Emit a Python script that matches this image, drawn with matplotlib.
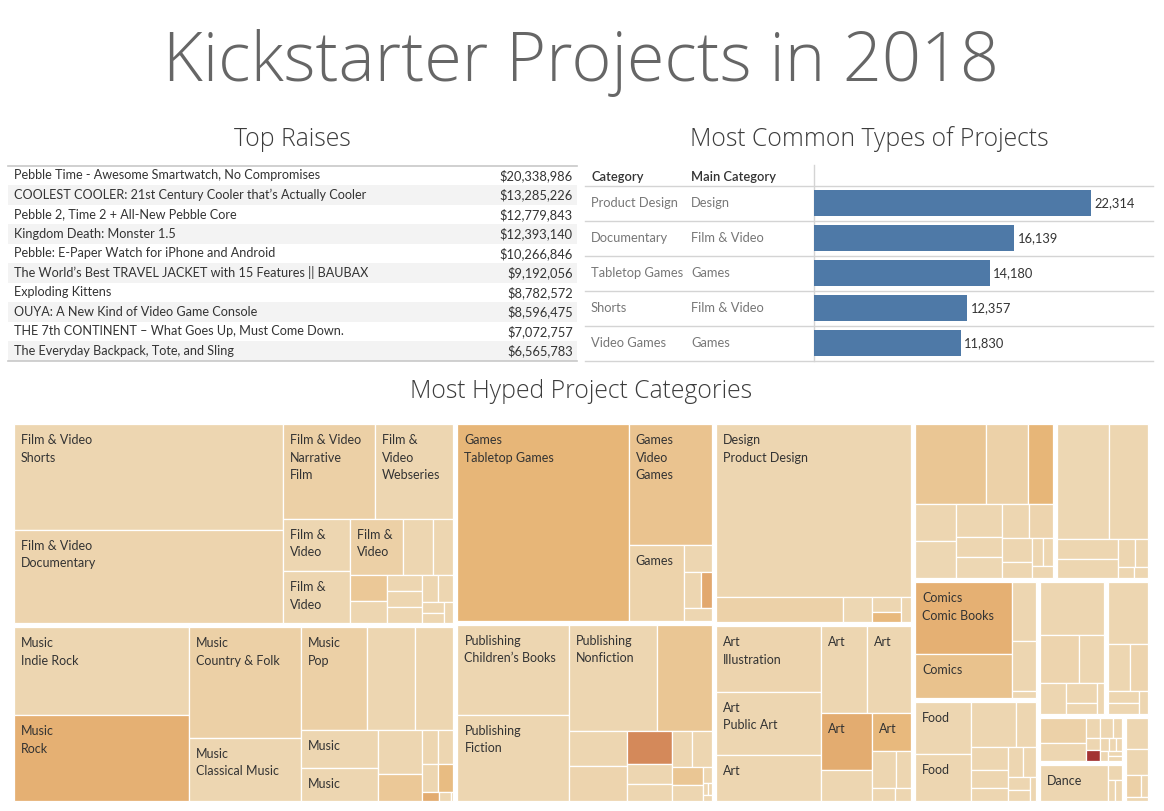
import matplotlib
matplotlib.use("Agg")
import matplotlib.pyplot as plt
from matplotlib.colors import LinearSegmentedColormap, Normalize
from matplotlib.patches import Rectangle

W, H = 1164, 811

# ---------------- data ----------------
# Top Raises
project_names = [
    "Pebble Time - Awesome Smartwatch, No Compromises",
    "COOLEST COOLER: 21st Century Cooler that\u2019s Actually Cooler",
    "Pebble 2, Time 2 + All-New Pebble Core",
    "Kingdom Death: Monster 1.5",
    "Pebble: E-Paper Watch for iPhone and Android",
    "The World\u2019s Best TRAVEL JACKET with 15 Features || BAUBAX",
    "Exploding Kittens",
    "OUYA: A New Kind of Video Game Console",
    "THE 7th CONTINENT \u2013 What Goes Up, Must Come Down.",
    "The Everyday Backpack, Tote, and Sling",
]
project_raised = [20338986, 13285226, 12779843, 12393140, 10266846,
                  9192056, 8782572, 8596475, 7072757, 6565783]

# Most Common Types of Projects
type_categories = ["Product Design", "Documentary", "Tabletop Games", "Shorts", "Video Games"]
type_main = ["Design", "Film & Video", "Games", "Film & Video", "Games"]
type_counts = [22314, 16139, 14180, 12357, 11830]

# Most Hyped Project Categories (size = projects, colour = hype)
main_categories = ["Film & Video", "Music", "Games", "Publishing", "Design", "Art",
                   "Technology", "Fashion", "Comics", "Food", "Theater",
                   "Photography", "Crafts", "Dance", "Journalism"]

sub_values = {
    "Film & Video": [27500, 24200, 8460, 7160, 3390, 3330, 2860, 1650, 1100, 972, 792,
                     544, 544, 544, 405, 405, 231, 210, 198],
    "Music": [15000, 14500, 12000, 6870, 6565, 4750, 3840, 2850, 2475, 1890, 1160,
              544, 510, 432, 405, 144, 108, 18],
    "Games": [32700, 9900, 4050, 725, 612, 396, 348],
    "Publishing": [9810, 9374, 9100, 5720, 2016, 1960, 1485, 855, 765, 720, 720,
                   540, 480, 135, 54, 54, 54],
    "Design": [32940, 3100, 725, 406, 290, 250],
    "Art": [6750, 6450, 4780, 3850, 3750, 2800, 1510, 1480, 875, 548, 295, 192],
    "Technology": [5600, 3400, 1950, 1500, 1500, 1500, 950, 950, 920, 800, 720,
                   462, 288, 286, 256],
    "Fashion": [6000, 4500, 1218, 1160, 510, 360, 176, 154],
    "Comics": [7000, 4300, 1392, 1176, 168],
    "Food": [2950, 2650, 2050, 912, 874, 665, 490, 455, 414, 276, 253, 138],
    "Theater": [3500, 1900, 1240, 840, 648, 350, 225],
    "Photography": [2650, 1081, 893, 429, 363, 225],
    "Crafts": [1250, 850, 285, 285, 190, 180, 165, 120, 105, 90, 72, 70, 70],
    "Dance": [2700, 238, 168, 168],
    "Journalism": [780, 650, 400, 175, 96],
}

sub_hype = {
    "Film & Video": [0.03, 0.04, 0.07, 0.03, 0.03, 0.03, 0.07, 0.03, 0.03, 0.12, 0.03,
                     0.03, 0.03, 0.03, 0.03, 0.03, 0.03, 0.03, 0.03],
    "Music": [0.03, 0.27, 0.07, 0.03, 0.07, 0.03, 0.03, 0.03, 0.03, 0.03, 0.12,
              0.03, 0.03, 0.03, 0.2, 0.3, 0.03, 0.03],
    "Games": [0.24, 0.15, 0.05, 0.03, 0.03, 0.32, 0.03],
    "Publishing": [0.03, 0.03, 0.03, 0.13, 0.03, 0.04, 0.5, 0.03, 0.03, 0.03, 0.03,
                   0.13, 0.03, 0.03, 0.03, 0.03, 0.03],
    "Design": [0.03, 0.06, 0.02, 0.03, 0.22, 0.03],
    "Art": [0.04, 0.03, 0.03, 0.03, 0.03, 0.3, 0.03, 0.22, 0.03, 0.03, 0.03, 0.03],
    "Technology": [0.13, 0.06, 0.24, 0.03, 0.02, 0.03, 0.03, 0.02, 0.03, 0.04, 0.03,
                   0.03, 0.03, 0.03, 0.03],
    "Fashion": [0.02, 0.03, 0.03, 0.03, 0.03, 0.03, 0.03, 0.03],
    "Comics": [0.27, 0.16, 0.03, 0.03, 0.03],
    "Food": [0.03, 0.03, 0.03, 0.03, 0.03, 0.03, 0.03, 0.03, 0.03, 0.03, 0.03, 0.03],
    "Theater": [0.03, 0.04, 0.03, 0.03, 0.03, 0.03, 0.03],
    "Photography": [0.03, 0.03, 0.04, 0.03, 0.03, 0.03],
    "Crafts": [0.06, 0.03, 0.03, 0.03, 0.03, 0.03, 1.0, 0.03, 0.03, 0.03, 0.03, 0.03, 0.03],
    "Dance": [0.03, 0.03, 0.03, 0.03],
    "Journalism": [0.03, 0.03, 0.07, 0.03, 0.03],
}

sub_labels = {
    "Film & Video": ["Film & Video\nShorts", "Film & Video\nDocumentary",
                     "Film & Video\nNarrative\nFilm", "Film &\nVideo\nWebseries",
                     "Film &\nVideo", "Film &\nVideo", "Film &\nVideo"],
    "Music": ["Music\nIndie Rock", "Music\nRock", "Music\nCountry & Folk",
              "Music\nClassical Music", "Music\nPop", "", "", "Music", "Music"],
    "Games": ["Games\nTabletop Games", "Games\nVideo\nGames", "Games"],
    "Publishing": ["Publishing\nChildren\u2019s Books", "Publishing\nFiction",
                   "Publishing\nNonfiction"],
    "Design": ["Design\nProduct Design"],
    "Art": ["Art\nIllustration", "Art\nPublic Art", "Art", "Art", "Art", "Art", "", "Art"],
    "Comics": ["Comics\nComic Books", "Comics"],
    "Food": ["Food", "Food"],
    "Dance": ["Dance"],
}

# ---------------- helpers ----------------
PHI = (1 + 5 ** 0.5) / 2


def squarify(values, x0, y0, x1, y1):
    # squarified treemap (golden ratio target), rows start top-left
    rects = []
    value = float(sum(values))
    n = len(values)
    i0 = 0
    while i0 < n:
        dx, dy = x1 - x0, y1 - y0
        i1 = i0
        s = values[i1]
        i1 += 1
        vmin = vmax = s
        alpha = max(dy / dx, dx / dy) / (value * PHI)
        beta = s * s * alpha
        best = max(vmax / beta, beta / vmin)
        while i1 < n:
            v = values[i1]
            s2 = s + v
            lo, hi = min(vmin, v), max(vmax, v)
            beta = s2 * s2 * alpha
            r = max(hi / beta, beta / lo)
            if r > best:
                break
            s, vmin, vmax, best = s2, lo, hi, r
            i1 += 1
        row = values[i0:i1]
        if dx < dy:
            yb = y0 + dy * s / value
            xx = x0
            for v in row:
                w = dx * v / s
                rects.append((xx, y0, w, yb - y0))
                xx += w
            y0 = yb
        else:
            xb = x0 + dx * s / value
            yy = y0
            for v in row:
                h = dy * v / s
                rects.append((x0, yy, xb - x0, h))
                yy += h
            x0 = xb
        value -= s
        i0 = i1
    return rects


def px_axes(fig, left, top, width, height):
    return fig.add_axes([left / W, 1 - (top + height) / H, width / W, height / H])


# ---------------- figure ----------------
plt.rcParams["font.family"] = ["Lato", "DejaVu Sans"]
fig = plt.figure(figsize=(W / 100, H / 100), dpi=100)
fig.patch.set_facecolor("white")

# background axes in pixel coordinates for titles, lines and table text
bg = fig.add_axes([0, 0, 1, 1])
bg.set_xlim(0, W)
bg.set_ylim(H, 0)
bg.axis("off")

renderer = fig.canvas.get_renderer()
light = ["Open Sans", "DejaVu Sans"]

title = bg.text(581, 63, "Kickstarter Projects in 2018", ha="center", va="center",
                fontsize=40, color="#666666", fontweight="light", family=light)
# scale the title so it spans the same width as the original
tw = title.get_window_extent(renderer).width
title.set_fontsize(40 * 835 / tw)

t2 = bg.text(869, 139, "Most Common Types of Projects", ha="center", va="center",
             fontsize=17, color="#3c3c3c", fontweight="light", family=light)
sec_size = 17 * 359 / t2.get_window_extent(renderer).width
t2.set_fontsize(sec_size)
bg.text(292, 139, "Top Raises", ha="center", va="center", fontsize=sec_size,
        color="#3c3c3c", fontweight="light", family=light)
bg.text(581, 392, "Most Hyped Project Categories", ha="center", va="center",
        fontsize=sec_size, color="#3c3c3c", fontweight="light", family=light)

# ---- Top Raises table
row_h = 19.5
tab_top = 165.5
for i, (name, amount) in enumerate(zip(project_names, project_raised)):
    y = tab_top + i * row_h
    if i % 2 == 1:
        bg.add_patch(Rectangle((8, y), 569, row_h, facecolor="#f3f3f3", edgecolor="none"))
    bg.text(14, y + row_h / 2, name, ha="left", va="center", fontsize=9.1, color="#333333")
    bg.text(573, y + row_h / 2, f"${amount:,}", ha="right", va="center",
            fontsize=9.3, color="#333333")
bg.plot([8, 577], [tab_top, tab_top], color="#c8c8c8", lw=1.2)
tab_bot = tab_top + len(project_names) * row_h
bg.plot([8, 577], [tab_bot, tab_bot], color="#c8c8c8", lw=1.2)

# ---- Most Common Types: header and row texts
bar_row_h = 35
head_line = 185.5
bg.text(591, 177, "Category", ha="left", va="center", fontsize=9.3, color="#333333",
        fontweight="semibold")
bg.text(691, 177, "Main Category", ha="left", va="center", fontsize=9.3, color="#333333",
        fontweight="semibold")
bg.plot([585, 1153], [head_line, head_line], color="#d4d4d4", lw=1.0)
for i, (cat, main) in enumerate(zip(type_categories, type_main)):
    yc = head_line + (i + 0.5) * bar_row_h
    bg.text(591, yc, cat, ha="left", va="center", fontsize=9.3, color="#777777")
    bg.text(691, yc, main, ha="left", va="center", fontsize=9.3, color="#777777")
    yl = head_line + (i + 1) * bar_row_h
    bg.plot([585, 1153], [yl, yl], color="#d4d4d4", lw=1.0)
bg.plot([813.5, 813.5], [165, head_line + len(type_counts) * bar_row_h],
        color="#d4d4d4", lw=1.0)

# bar axes
ax_bar = px_axes(fig, 814, head_line, 339, len(type_counts) * bar_row_h)
ax_bar.barh(range(len(type_counts)), type_counts, height=0.74, color="#4e79a7")
ax_bar.set_xlim(0, 27300)
ax_bar.set_ylim(len(type_counts) - 0.5, -0.5)
ax_bar.axis("off")
for i, c in enumerate(type_counts):
    ax_bar.text(c + 250, i, f"{c:,}", ha="left", va="center", fontsize=9.3, color="#333333")

# ---- Treemap
TM_L, TM_T, TM_W, TM_H = 12, 422, 1138, 381
ax_tm = px_axes(fig, TM_L, TM_T, TM_W, TM_H)
ax_tm.set_xlim(0, TM_W)
ax_tm.set_ylim(TM_H, 0)
ax_tm.axis("off")

cmap = LinearSegmentedColormap.from_list(
    "hype", [(0.0, "#eedab9"), (0.1, "#ebcb9c"), (0.25, "#e7b475"),
             (0.5, "#d4895a"), (1.0, "#a33333")])
norm = Normalize(0, 1)

totals = [sum(sub_values[m]) for m in main_categories]
order = sorted(range(len(main_categories)), key=lambda k: -totals[k])
main_rects = squarify([totals[k] for k in order], 0, 0, TM_W, TM_H)

gap = 2
for k, (mx, my, mw, mh) in zip(order, main_rects):
    name = main_categories[k]
    vals = sub_values[name]
    hype = sub_hype[name]
    labels = sub_labels.get(name, [])
    idx = sorted(range(len(vals)), key=lambda j: -vals[j])
    cells = squarify([vals[j] for j in idx], mx + gap, my + gap,
                     mx + mw - gap, my + mh - gap)
    for j, (cx, cy, cw, ch) in zip(idx, cells):
        ax_tm.add_patch(Rectangle((cx, cy), cw, ch, facecolor=cmap(norm(hype[j])),
                                  edgecolor="white", lw=0.9))
        if j < len(labels) and labels[j]:
            ax_tm.text(cx + 7, cy + 10, labels[j], ha="left", va="top", fontsize=9,
                       color="#333333", linespacing=1.55)

fig.savefig("out.png", dpi=100)
